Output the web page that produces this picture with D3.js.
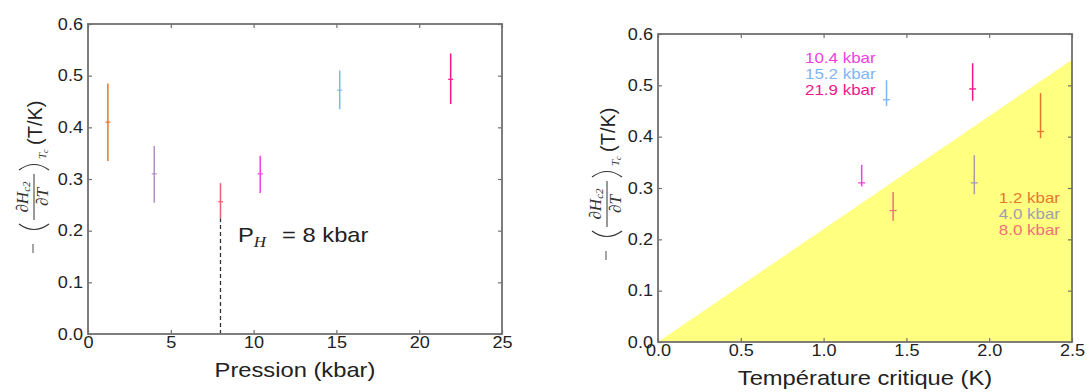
<!DOCTYPE html>
<html>
<head>
<meta charset="utf-8">
<script src="https://cdn.jsdelivr.net/npm/d3@7"></script>
<style>
  body { margin: 0; background: #fff; }
  svg { display: block; }
</style>
</head>
<body>
<div id="chart"></div>
<script>
// values
const pressures = [1.2, 4.0, 8.0, 10.4, 15.2, 21.9];
const slopes = [0.41, 0.31, 0.256, 0.31, 0.472, 0.493];
const slopeHigh = [0.485, 0.364, 0.292, 0.345, 0.51, 0.543];
const slopeLowP = [0.335, 0.254, 0.224, 0.273, 0.435, 0.445];
const critTemps = [2.31, 1.91, 1.42, 1.23, 1.38, 1.90];
const slopeLowTc = [0.397, 0.288, 0.236, 0.303, 0.46, 0.47];
const pressLabels = ["1.2 kbar", "4.0 kbar", "8.0 kbar", "10.4 kbar", "15.2 kbar", "21.9 kbar"];
const limitTc = [0, 2.5];
const limitSlope = [0, 0.55];
const pressTicks = [0, 5, 10, 15, 20, 25];
const tcTicks = [0, 0.5, 1.0, 1.5, 2.0, 2.5];
const slopeTicks = [0, 0.1, 0.2, 0.3, 0.4, 0.5, 0.6];
const pH = 8;

const COLORS_L = ["#E8772E", "#B48FC8", "#F0606E", "#F040E0", "#7FB5F5", "#F5148C"];
const COLORS_R = ["#E8772E", "#A49CAC", "#F0707A", "#F040E0", "#7FB5F5", "#F5148C"];
const FRAME = "#707070";
const SANS = "'Liberation Sans', Arial, sans-serif";
const SERIF = "'Liberation Serif', 'DejaVu Serif', serif";
const STRETCH = 1.13; // the figure's lettering is a bit wider than Arial

const svg = d3.select("#chart").append("svg")
  .attr("width", 1087).attr("height", 392);

// widen text horizontally around its own x anchor
function widen(sel) {
  sel.each(function () {
    const t = d3.select(this);
    const x = +t.attr("x") || 0;
    t.attr("transform", `translate(${x * (1 - STRETCH)},0) scale(${STRETCH},1)`);
  });
}

function frame(g, x, y, xTicks, xFmt) {
  const [x0, x1] = x.range();
  const [y0, y1] = y.range();
  g.append("g").attr("transform", `translate(0,${y0})`)
    .call(d3.axisBottom(x).tickValues(xTicks).tickFormat(xFmt).tickSizeInner(-4).tickSizeOuter(0).tickPadding(3));
  g.append("g").attr("transform", `translate(0,${y1})`)
    .call(d3.axisTop(x).tickValues(xTicks).tickFormat("").tickSizeInner(-4).tickSizeOuter(0));
  g.append("g").attr("transform", `translate(${x0},0)`)
    .call(d3.axisLeft(y).tickValues(slopeTicks).tickFormat(d3.format(".1f")).tickSizeInner(-4).tickSizeOuter(0).tickPadding(5));
  g.append("g").attr("transform", `translate(${x1},0)`)
    .call(d3.axisRight(y).tickValues(slopeTicks).tickFormat("").tickSizeInner(-4).tickSizeOuter(0));
  g.selectAll(".domain").remove();
  g.selectAll(".tick line").attr("stroke", FRAME).attr("stroke-width", 1.2);
  g.selectAll(".tick text").attr("font-family", SANS).attr("font-size", 16).attr("fill", "#222")
    .call(widen);
  g.append("rect")
    .attr("x", x0).attr("y", y1).attr("width", x1 - x0).attr("height", y0 - y1)
    .attr("fill", "none").attr("stroke", FRAME).attr("stroke-width", 1.8);
}

function yLabel(cx, startY) {
  const lab = svg.append("g")
    .attr("transform", `translate(${cx},${startY}) rotate(-90)`)
    .attr("fill", "#333");
  lab.append("line").attr("x1", 2).attr("x2", 11).attr("y1", -1).attr("y2", -1)
    .attr("stroke", "#777").attr("stroke-width", 1.3);
  lab.append("path").attr("d", "M31,-15 Q20,0 31,15")
    .attr("fill", "none").attr("stroke", "#333").attr("stroke-width", 1.2);
  lab.append("path").attr("d", "M85,-15 Q96,0 85,15")
    .attr("fill", "none").attr("stroke", "#333").attr("stroke-width", 1.2);
  const num = lab.append("text").attr("x", 58).attr("y", -6).attr("text-anchor", "middle")
    .attr("font-family", SERIF).attr("font-style", "italic").attr("font-size", 17);
  num.append("tspan").text("∂H");
  num.append("tspan").attr("font-size", 11).attr("dy", 2).text("c2");
  lab.append("line").attr("x1", 35).attr("x2", 81).attr("y1", 0).attr("y2", 0)
    .attr("stroke", "#333").attr("stroke-width", 1);
  lab.append("text").attr("x", 58).attr("y", 14).attr("text-anchor", "middle")
    .attr("font-family", SERIF).attr("font-style", "italic").attr("font-size", 17).text("∂T");
  const sub = lab.append("text").attr("x", 96).attr("y", 12)
    .attr("font-family", SERIF).attr("font-style", "italic").attr("font-size", 11);
  sub.append("tspan").text("T");
  sub.append("tspan").attr("font-size", 8).attr("dy", 2).text("c");
  lab.append("text").attr("x", 110).attr("y", 8)
    .attr("font-family", SANS).attr("font-size", 20).attr("fill", "#222").text("(T/K)");
}

// ---- left: slope vs pressure
const xL = d3.scaleLinear().domain([0, 25]).range([88, 502]);
const yL = d3.scaleLinear().domain([0, 0.6]).range([334, 24]);
const gL = svg.append("g");

gL.append("line")
  .attr("x1", xL(pH)).attr("x2", xL(pH))
  .attr("y1", yL(0)).attr("y2", yL(slopeLowP[2]))
  .attr("stroke", "#333").attr("stroke-width", 1.3).attr("stroke-dasharray", "4,3");

pressures.forEach((p, i) => {
  gL.append("line")
    .attr("x1", xL(p)).attr("x2", xL(p))
    .attr("y1", yL(slopeLowP[i])).attr("y2", yL(slopeHigh[i]))
    .attr("stroke", COLORS_L[i]).attr("stroke-width", 1.5);
  gL.append("line")
    .attr("x1", xL(p) - 2.5).attr("x2", xL(p) + 2.5)
    .attr("y1", yL(slopes[i])).attr("y2", yL(slopes[i]))
    .attr("stroke", COLORS_L[i]).attr("stroke-width", 1.2);
});

frame(gL, xL, yL, pressTicks, d3.format("d"));

gL.append("text").attr("x", (88 + 502) / 2).attr("y", 377).attr("text-anchor", "middle")
  .attr("font-family", SANS).attr("font-size", 21).attr("fill", "#222").text("Pression (kbar)")
  .call(widen);

const ph = gL.append("text").attr("x", 238).attr("y", 242)
  .attr("font-family", SANS).attr("font-size", 21).attr("fill", "#222");
ph.append("tspan").text("P");
ph.append("tspan").attr("font-family", SERIF).attr("font-style", "italic").attr("font-size", 15).attr("dy", 5).text("H");
ph.append("tspan").attr("x", 277).attr("y", 242).text("= 8 kbar");
ph.call(widen);

yLabel(34, 255);

// ---- right: slope vs critical temperature
const xR = d3.scaleLinear().domain([0, 2.5]).range([658, 1072]);
const yR = d3.scaleLinear().domain([0, 0.6]).range([342, 34]);
const gR = svg.append("g");

gR.append("path")
  .attr("d", d3.line()([[xR(limitTc[0]), yR(limitSlope[0])], [xR(limitTc[1]), yR(limitSlope[1])], [xR(limitTc[1]), yR(0)]]) + "Z")
  .attr("fill", "#FFFF80");

critTemps.forEach((t, i) => {
  gR.append("line")
    .attr("x1", xR(t)).attr("x2", xR(t))
    .attr("y1", yR(slopeLowTc[i])).attr("y2", yR(slopeHigh[i]))
    .attr("stroke", COLORS_R[i]).attr("stroke-width", 1.5);
  gR.append("line")
    .attr("x1", xR(t) - 3.5).attr("x2", xR(t) + 3.5)
    .attr("y1", yR(slopes[i])).attr("y2", yR(slopes[i]))
    .attr("stroke", COLORS_R[i]).attr("stroke-width", 1.3);
});

frame(gR, xR, yR, tcTicks, d3.format(".1f"));

gR.append("text").attr("x", (658 + 1072) / 2).attr("y", 385).attr("text-anchor", "middle")
  .attr("font-family", SANS).attr("font-size", 21).attr("fill", "#222").text("Température critique (K)")
  .call(widen);

// pressure labels, high-pressure group top left, low-pressure group bottom right
[3, 4, 5].forEach((i, k) => {
  gR.append("text").attr("x", 805).attr("y", 63 + k * 16)
    .attr("font-family", SANS).attr("font-size", 15).attr("fill", COLORS_R[i]).text(pressLabels[i])
    .call(widen);
});
[0, 1, 2].forEach((i, k) => {
  gR.append("text").attr("x", 1060).attr("y", 203 + k * 16).attr("text-anchor", "end")
    .attr("font-family", SANS).attr("font-size", 15).attr("fill", COLORS_R[i]).text(pressLabels[i])
    .call(widen);
});

yLabel(607, 262);
</script>
</body>
</html>
